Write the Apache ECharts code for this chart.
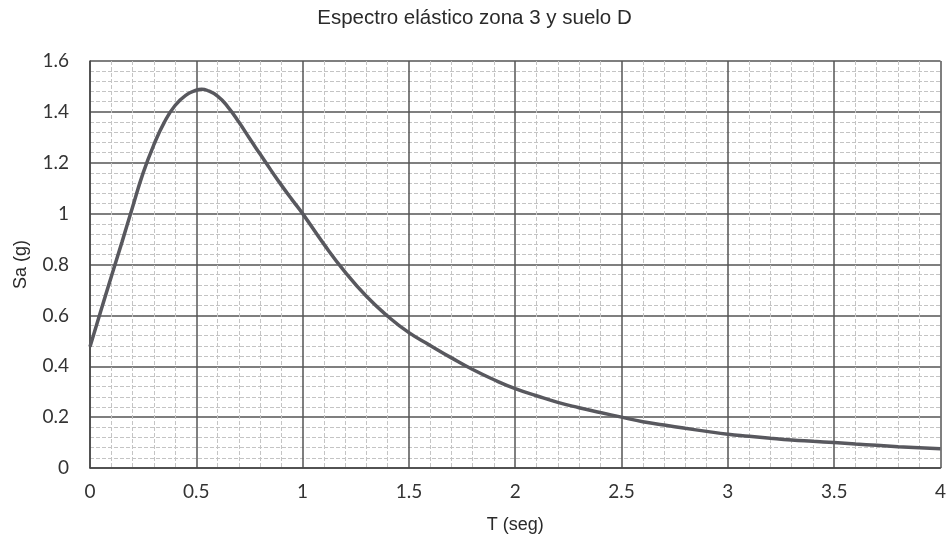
<!DOCTYPE html>
<html style="height: 100%">

<head>
    <meta charset="UTF-8" />
    <title>Espectro elástico</title>
    <script src="https://cdn.jsdelivr.net/npm/echarts@6.0.0/dist/echarts.min.js"></script>
</head>

<body style="height: 100%; margin: 0; background: #fff">
    <div id="main" style="width: 949px; height: 543px; margin: 0"></div>
    <script type="text/javascript">

        // periodo T (seg) y aceleracion espectral Sa (g)
        var periods = [0, 0.05, 0.1, 0.15, 0.2, 0.25, 0.3, 0.35, 0.4, 0.45, 0.5, 0.525, 0.55, 0.6, 0.65, 0.7, 0.75, 0.8, 0.85, 0.9, 0.95,
            1.0, 1.1, 1.2, 1.3, 1.4, 1.5, 1.6, 1.7, 1.8, 1.9, 2.0, 2.1, 2.2, 2.3, 2.4, 2.5, 2.6, 2.7, 2.8, 2.9,
            3.0, 3.1, 3.2, 3.3, 3.4, 3.5, 3.6, 3.7, 3.8, 3.9, 4.0];
        var saValues = [0.477, 0.615, 0.752, 0.887, 1.025, 1.16, 1.27, 1.36, 1.425, 1.465, 1.485, 1.489, 1.485, 1.462, 1.418, 1.36, 1.296, 1.234, 1.172, 1.112, 1.055,
            1.0, 0.88, 0.77, 0.675, 0.597, 0.532, 0.482, 0.433, 0.387, 0.347, 0.312, 0.284, 0.258, 0.237, 0.218, 0.2, 0.182, 0.169, 0.156, 0.144,
            0.133, 0.125, 0.117, 0.11, 0.105, 0.1, 0.094, 0.089, 0.084, 0.08, 0.076];
        var xTicks = [0, 0.5, 1, 1.5, 2, 2.5, 3, 3.5, 4];
        var yTicks = [0, 0.2, 0.4, 0.6, 0.8, 1, 1.2, 1.4, 1.6];

        var chartDom = document.getElementById('main');
        var myChart = echarts.init(chartDom);
        var option;

        var points = periods.map(function (t, i)
        {
            return [t, saValues[i]];
        });

        option = {
            backgroundColor: '#ffffff',
            animation: false,
            title: {
                text: 'Espectro elástico zona 3 y suelo D',
                left: 'center',
                top: 3,
                textStyle: {
                    fontFamily: 'Liberation Sans',
                    fontSize: 20.5,
                    fontWeight: 'normal',
                    color: '#2a2a2a'
                }
            },
            grid: {
                left: 90,
                right: 8,
                top: 61,
                bottom: 75
            },
            xAxis: {
                type: 'value',
                min: xTicks[0],
                max: xTicks[xTicks.length - 1],
                interval: 0.5,
                name: 'T (seg)',
                nameLocation: 'middle',
                nameGap: 48,
                nameTextStyle: { fontFamily: 'Liberation Sans', fontSize: 18, color: '#2a2a2a' },
                axisLine: { show: true, lineStyle: { color: '#444', width: 1.5 } },
                axisTick: { show: false },
                axisLabel: { fontFamily: 'Lato', fontSize: 19, color: '#333', margin: 14 },
                splitLine: { show: true, lineStyle: { color: '#555', width: 1.5 } },
                minorTick: { show: false, splitNumber: 5 },
                minorSplitLine: { show: true, lineStyle: { color: '#c4c4c4', width: 1, type: [4, 2] } }
            },
            yAxis: {
                type: 'value',
                min: yTicks[0],
                max: yTicks[yTicks.length - 1],
                interval: 0.2,
                name: 'Sa (g)',
                nameLocation: 'middle',
                nameGap: 60,
                nameTextStyle: { fontFamily: 'Liberation Sans', fontSize: 18, color: '#2a2a2a' },
                axisLine: { show: true, lineStyle: { color: '#444', width: 1.5 } },
                axisTick: { show: false },
                axisLabel: { fontFamily: 'Lato', fontSize: 19, color: '#333', margin: 21 },
                splitLine: { show: true, lineStyle: { color: '#555', width: 1.5 } },
                minorTick: { show: false, splitNumber: 5 },
                minorSplitLine: { show: true, lineStyle: { color: '#c4c4c4', width: 1, type: [4, 2] } }
            },
            series: [{
                type: 'line',
                data: points,
                smooth: true,
                symbol: 'none',
                lineStyle: { color: '#58585e', width: 3.5 }
            }]
        };

        myChart.setOption(option);

    </script>
</body>

</html>
